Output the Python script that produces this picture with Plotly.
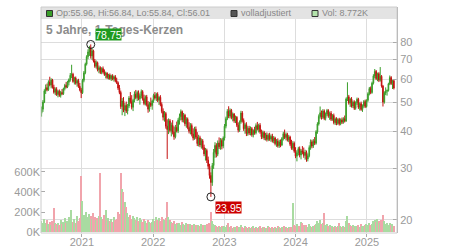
import math
import pandas as pd
import plotly.graph_objects as go

# ---------------- data (weekly candles) ----------------
start_date = "2020-06-08"

opens = [
    46.0, 47.5, 50.2, 54.8, 56.2, 55.3, 58.7, 57.4, 59.6, 56.4,
    54.2, 55.5, 53.3, 54.6, 52.9, 54.1, 53.6, 55.8, 57.2, 56.5,
    58.6, 59.8, 61.9, 62.4, 59.0, 60.6, 58.2, 59.4, 56.8, 55.2,
    54.0, 59.5, 63.1, 67.5, 71.6, 74.3, 76.8, 72.0, 74.9, 69.2,
    66.4, 68.3, 64.6, 65.7, 63.3, 65.2, 63.5, 62.2, 62.9, 60.8,
    62.0, 60.3, 61.6, 60.1, 61.2, 59.3, 58.4, 56.0, 54.1, 48.5,
    50.6, 47.2, 48.9, 46.8, 48.7, 51.8, 50.3, 48.2, 50.9, 53.4,
    52.0, 54.1, 51.5, 52.8, 54.5, 51.6, 49.7, 52.3, 49.2, 47.5,
    49.8, 48.9, 50.7, 52.9, 51.8, 53.4, 50.9, 52.1, 49.3, 46.7,
    44.6, 45.9, 41.6, 40.5, 43.4, 40.2, 41.9, 39.7, 38.3, 41.2,
    40.1, 43.6, 44.8, 46.6, 43.7, 45.3, 42.4, 43.9, 41.2, 40.0,
    41.8, 39.1, 37.9, 40.6, 38.2, 36.3, 38.0, 35.9, 37.1, 35.2,
    33.5, 34.4, 31.9, 30.4, 28.3, 26.8, 30.6, 33.9, 35.8, 33.4,
    36.5, 35.4, 37.2, 35.6, 37.9, 41.6, 44.1, 46.7, 45.0, 47.1,
    44.5, 45.7, 43.4, 44.6, 41.9, 40.3, 43.0, 46.1, 43.5, 40.8,
    42.1, 39.3, 40.9, 39.4, 40.8, 38.9, 40.2, 39.5, 41.8, 40.7,
    41.9, 39.8, 38.3, 39.6, 37.9, 38.8, 37.5, 38.7, 37.6, 38.4,
    37.1, 37.9, 36.3, 37.0, 35.7, 36.8, 35.9, 37.8, 39.2, 38.1,
    39.0, 37.4, 38.2, 36.1, 35.0, 36.4, 34.2, 32.9, 33.8, 34.9,
    33.2, 34.3, 34.0, 33.1, 33.9, 32.2, 33.0, 35.2, 36.8, 35.6,
    37.0, 36.4, 39.8, 42.3, 44.9, 46.2, 44.6, 46.8, 44.2, 45.7,
    47.0, 45.1, 46.0, 43.9, 45.2, 42.8, 44.0, 42.5, 43.8, 42.4,
    43.7, 42.9, 44.1, 43.3, 51.4, 52.3, 49.8, 51.4, 48.7, 50.2,
    47.8, 49.9, 51.3, 48.2, 49.6, 47.4, 48.8, 50.4, 48.5, 50.9,
    53.6, 55.8, 54.1, 58.2, 61.6, 63.8, 60.3, 62.7, 59.5, 61.4,
    56.9, 50.2, 53.9, 54.6, 55.0, 57.9, 60.8, 58.0, 59.3,
]

highs = [
    48.5, 51.0, 55.5, 57.6, 58.0, 59.5, 61.2, 60.5, 60.2, 57.5,
    56.3, 56.4, 55.2, 55.4, 54.8, 55.6, 56.2, 57.9, 58.8, 59.3,
    60.4, 63.0, 67.2, 63.1, 61.2, 61.3, 60.0, 60.2, 58.3, 56.1,
    60.2, 64.0, 68.3, 72.4, 75.8, 77.9, 78.75, 76.4, 75.6, 70.3,
    69.5, 68.9, 66.8, 66.4, 65.9, 66.3, 64.8, 63.7, 63.4, 62.6,
    62.8, 62.2, 62.4, 61.8, 62.0, 60.7, 59.0, 57.4, 54.9, 51.8,
    52.2, 49.8, 50.4, 49.5, 52.6, 54.3, 53.0, 51.5, 54.6, 55.2,
    54.9, 55.0, 53.6, 55.4, 55.1, 53.2, 52.9, 53.1, 50.6, 50.3,
    52.0, 51.2, 53.6, 54.3, 54.0, 54.2, 52.6, 53.0, 50.1, 47.8,
    46.8, 46.5, 43.9, 44.2, 44.0, 42.8, 43.6, 41.5, 42.0, 43.1,
    44.3, 45.9, 47.4, 47.0, 46.1, 45.8, 44.6, 44.5, 42.9, 42.6,
    42.5, 40.9, 41.4, 41.5, 39.7, 38.9, 38.6, 37.8, 37.6, 36.0,
    35.1, 34.9, 32.8, 31.0, 29.0, 31.2, 34.8, 36.7, 36.4, 37.2,
    38.1, 37.9, 37.8, 38.4, 42.3, 44.8, 47.5, 48.6, 47.8, 47.6,
    46.3, 46.1, 45.2, 45.0, 42.8, 43.5, 46.9, 46.8, 44.2, 42.7,
    42.9, 41.6, 41.7, 41.5, 41.3, 40.6, 41.4, 42.5, 43.0, 42.4,
    42.6, 40.5, 40.2, 40.1, 39.5, 39.6, 39.3, 39.5, 39.0, 39.2,
    38.5, 38.3, 37.6, 37.8, 37.4, 37.5, 38.2, 39.8, 40.5, 39.6,
    39.5, 38.8, 38.6, 37.4, 37.0, 36.9, 35.3, 34.5, 35.4, 35.5,
    34.8, 35.6, 35.2, 34.6, 34.4, 33.6, 35.8, 37.5, 37.4, 37.6,
    38.2, 40.3, 42.9, 45.6, 48.5, 47.0, 47.5, 47.4, 46.3, 47.6,
    47.5, 46.6, 46.8, 45.7, 45.9, 44.5, 44.6, 44.3, 44.4, 44.2,
    44.5, 44.6, 45.2, 52.0, 58.6, 53.1, 51.9, 52.2, 50.8, 50.9,
    50.5, 52.0, 51.9, 50.1, 50.4, 49.3, 51.0, 51.2, 51.3, 54.2,
    56.5, 56.7, 58.9, 62.4, 65.0, 64.5, 63.2, 63.4, 66.0, 62.0,
    57.4, 54.6, 56.3, 55.4, 58.4, 61.8, 61.5, 59.8, 59.9,
]

lows = [
    44.8, 46.5, 49.8, 53.5, 54.6, 54.8, 56.8, 55.9, 55.8, 53.6,
    53.0, 52.7, 52.1, 52.3, 52.0, 53.0, 53.1, 55.0, 55.9, 56.0,
    57.2, 58.9, 60.5, 58.4, 57.6, 57.5, 56.6, 56.1, 54.6, 51.8,
    53.5, 58.6, 62.4, 66.8, 70.2, 72.0, 70.5, 69.8, 68.4, 65.6,
    65.2, 63.8, 62.9, 62.5, 62.4, 62.7, 61.6, 60.4, 60.1, 59.9,
    59.7, 59.2, 59.5, 58.9, 58.6, 57.8, 55.2, 53.4, 47.6, 45.3,
    46.4, 45.0, 46.1, 45.6, 47.9, 49.6, 47.4, 46.8, 50.1, 51.4,
    50.6, 50.9, 49.2, 51.7, 50.8, 49.0, 48.9, 48.5, 46.2, 46.6,
    48.3, 47.3, 49.9, 51.2, 50.6, 50.2, 49.1, 48.6, 46.0, 43.5,
    43.1, 40.8, 32.2, 39.1, 39.6, 38.4, 39.0, 37.4, 37.8, 39.6,
    39.4, 42.1, 43.5, 42.9, 42.8, 41.6, 41.1, 40.6, 39.3, 39.0,
    38.4, 37.2, 37.4, 37.6, 35.6, 35.5, 35.3, 34.9, 34.6, 32.9,
    31.8, 31.2, 29.7, 27.6, 23.95, 26.1, 29.8, 32.5, 32.6, 32.9,
    34.8, 34.6, 34.7, 35.0, 37.2, 40.9, 43.6, 44.3, 44.2, 43.9,
    43.2, 42.7, 42.6, 41.3, 39.6, 39.8, 42.4, 42.8, 40.1, 39.2,
    38.5, 38.6, 38.8, 38.7, 38.3, 38.1, 38.9, 39.0, 40.2, 39.6,
    39.2, 37.6, 37.7, 37.3, 37.2, 36.9, 37.0, 37.1, 36.8, 36.6,
    36.4, 35.8, 35.4, 35.2, 35.1, 35.3, 35.6, 37.2, 37.6, 37.2,
    36.9, 36.7, 35.6, 34.6, 34.5, 33.8, 32.4, 31.6, 33.1, 32.6,
    32.1, 33.4, 32.5, 32.0, 31.5, 31.6, 32.6, 34.6, 35.0, 35.1,
    35.9, 36.0, 39.2, 41.8, 44.1, 43.8, 44.0, 43.6, 43.5, 44.9,
    44.4, 43.7, 43.3, 43.4, 42.2, 42.0, 41.9, 42.0, 41.8, 41.9,
    42.3, 42.4, 42.8, 43.0, 50.6, 49.2, 48.3, 48.1, 47.9, 47.2,
    47.3, 49.1, 47.6, 47.0, 46.9, 46.5, 48.0, 47.9, 48.1, 50.3,
    52.9, 53.4, 53.6, 57.6, 60.4, 59.6, 59.1, 58.7, 58.9, 56.2,
    48.5, 49.6, 53.0, 52.8, 54.5, 57.3, 57.4, 55.6, 55.4,
]

closes = [
    47.5, 50.2, 54.8, 56.2, 55.3, 58.7, 57.4, 59.6, 56.4, 54.2,
    55.5, 53.3, 54.6, 52.9, 54.1, 53.6, 55.8, 57.2, 56.5, 58.6,
    59.8, 61.9, 62.4, 59.0, 60.6, 58.2, 59.4, 56.8, 55.2, 54.0,
    59.5, 63.1, 67.5, 71.6, 74.3, 76.8, 72.0, 74.9, 69.2, 66.4,
    68.3, 64.6, 65.7, 63.3, 65.2, 63.5, 62.2, 62.9, 60.8, 62.0,
    60.3, 61.6, 60.1, 61.2, 59.3, 58.4, 56.0, 54.1, 48.5, 50.6,
    47.2, 48.9, 46.8, 48.7, 51.8, 50.3, 48.2, 50.9, 53.4, 52.0,
    54.1, 51.5, 52.8, 54.5, 51.6, 49.7, 52.3, 49.2, 47.5, 49.8,
    48.9, 50.7, 52.9, 51.8, 53.4, 50.9, 52.1, 49.3, 46.7, 44.6,
    45.9, 41.6, 40.5, 43.4, 40.2, 41.9, 39.7, 38.3, 41.2, 40.1,
    43.6, 44.8, 46.6, 43.7, 45.3, 42.4, 43.9, 41.2, 40.0, 41.8,
    39.1, 37.9, 40.6, 38.2, 36.3, 38.0, 35.9, 37.1, 35.2, 33.5,
    34.4, 31.9, 30.4, 28.3, 26.8, 30.6, 33.9, 35.8, 33.4, 36.5,
    35.4, 37.2, 35.6, 37.9, 41.6, 44.1, 46.7, 45.0, 47.1, 44.5,
    45.7, 43.4, 44.6, 41.9, 40.3, 43.0, 46.1, 43.5, 40.8, 42.1,
    39.3, 40.9, 39.4, 40.8, 38.9, 40.2, 39.5, 41.8, 40.7, 41.9,
    39.8, 38.3, 39.6, 37.9, 38.8, 37.5, 38.7, 37.6, 38.4, 37.1,
    37.9, 36.3, 37.0, 35.7, 36.8, 35.9, 37.8, 39.2, 38.1, 39.0,
    37.4, 38.2, 36.1, 35.0, 36.4, 34.2, 32.9, 33.8, 34.9, 33.2,
    34.3, 34.0, 33.1, 33.9, 32.2, 33.0, 35.2, 36.8, 35.6, 37.0,
    36.4, 39.8, 42.3, 44.9, 46.2, 44.6, 46.8, 44.2, 45.7, 47.0,
    45.1, 46.0, 43.9, 45.2, 42.8, 44.0, 42.5, 43.8, 42.4, 43.7,
    42.9, 44.1, 43.3, 51.4, 52.3, 49.8, 51.4, 48.7, 50.2, 47.8,
    49.9, 51.3, 48.2, 49.6, 47.4, 48.8, 50.4, 48.5, 50.9, 53.6,
    55.8, 54.1, 58.2, 61.6, 63.8, 60.3, 62.7, 59.5, 61.4, 56.9,
    50.2, 53.9, 54.6, 55.0, 57.9, 60.8, 58.0, 59.3, 56.01,
]

volumes_k = [
    110, 90, 130, 95, 120, 85, 100, 75, 110, 240,
    90, 80, 95, 70, 120, 85, 100, 140, 90, 110,
    150, 120, 220, 100, 130, 95, 160, 110, 140, 560,
    310, 170, 140, 200, 150, 180, 160, 130, 190, 150,
    120, 140, 160, 590, 150, 130, 170, 220, 120, 140,
    110, 130, 100, 150, 120, 130, 205, 180, 590, 430,
    400, 300, 255, 190, 150, 170, 130, 160, 140, 120,
    150, 110, 140, 120, 100, 130, 115, 95, 120, 105,
    90, 100, 130, 110, 150, 120, 140, 110, 155, 130,
    120, 145, 300, 155, 120, 100, 90, 110, 85, 95,
    80, 90, 75, 100, 85, 70, 95, 80, 70, 85,
    75, 65, 80, 70, 60, 75, 65, 85, 70, 60,
    75, 80, 70, 90, 205, 110, 80, 70, 60, 55,
    65, 50, 60, 55, 60, 55, 70, 90, 50, 60,
    45, 55, 50, 65, 45, 55, 70, 50, 45, 60,
    50, 45, 55, 40, 50, 60, 45, 55, 40, 50,
    65, 45, 55, 50, 40, 45, 60, 50, 45, 55,
    40, 50, 45, 60, 50, 40, 55, 45, 65, 50,
    45, 55, 40, 50, 290, 70, 60, 80, 55, 65,
    105, 90, 70, 60, 75, 55, 80, 60, 50, 65,
    70, 85, 110, 90, 120, 80, 95, 190, 75, 80,
    60, 70, 55, 65, 50, 60, 55, 60, 95, 60,
    50, 65, 55, 110, 160, 90, 70, 60, 75, 55,
    65, 60, 70, 55, 80, 65, 60, 75, 85, 70,
    90, 75, 80, 110, 125, 100, 130, 110, 90, 120,
    170, 110, 80, 90, 75, 95, 70, 85, 60,
]

year_ticks = ["2021-01-01", "2022-01-01", "2023-01-01", "2024-01-01", "2025-01-01"]
year_labels = ["2021", "2022", "2023", "2024", "2025"]
price_ticks = [20, 30, 40, 50, 60, 70, 80]
vol_ticks = [0, 200, 400, 600]
vol_labels = ["0K", "200K", "400K", "600K"]

title_text = "5 Jahre, 1-Tages-Kerzen"
legend_ohlc = "Op:55.96, Hi:56.84, Lo:55.84, Cl:56.01"
legend_adj = "volladjustiert"
legend_vol = "Vol: 8.772K"

# ---------------- figure ----------------
n = len(closes)
dates = pd.date_range(start_date, periods=n, freq="7D")

UP = "#3a9e2a"
DOWN = "#c41010"
vol_colors = ["#a9dba1" if c >= o else "#f1a4ac" for o, c in zip(opens, closes)]

i_max = max(range(n), key=lambda i: highs[i])
i_min = min(range(n), key=lambda i: lows[i])

fig = go.Figure()
fig.add_trace(go.Bar(
    x=dates, y=volumes_k, yaxis="y",
    marker=dict(color=vol_colors, line=dict(width=0)),
    hoverinfo="skip",
))
fig.add_trace(go.Candlestick(
    x=dates, open=opens, high=highs, low=lows, close=closes, yaxis="y2",
    increasing=dict(line=dict(color=UP, width=1), fillcolor=UP),
    decreasing=dict(line=dict(color=DOWN, width=1), fillcolor=DOWN),
    whiskerwidth=0, hoverinfo="skip",
))
fig.add_trace(go.Scatter(
    x=[dates[i_max], dates[i_min]], y=[highs[i_max], lows[i_min]], yaxis="y2",
    mode="markers",
    marker=dict(symbol="circle-open", size=8, color="#222222", line=dict(width=1)),
    hoverinfo="skip",
))

L, R, T, B = 41, 53, 7, 17
W, H = 450, 250
pw, ph = W - L - R, H - T - B


def px(x):
    return (x - L) / pw


def py(y):
    return (T + ph - y) / ph


FONT = "Liberation Sans, Arial, sans-serif"
TICKC = "#9a9a9a"

shapes = [
    dict(type="rect", xref="paper", yref="paper", x0=0, x1=1, y0=py(19), y1=1,
         fillcolor="#e3e3e3", line=dict(width=0), layer="above"),
    dict(type="rect", xref="paper", yref="paper", x0=px(46.5), x1=px(52.5), y0=py(16.5), y1=py(10.5),
         fillcolor=UP, line=dict(color="#333", width=1), layer="above"),
    dict(type="rect", xref="paper", yref="paper", x0=px(231), x1=px(237), y0=py(16.5), y1=py(10.5),
         fillcolor="#555555", line=dict(color="#333", width=1), layer="above"),
    dict(type="rect", xref="paper", yref="paper", x0=px(312), x1=px(318), y0=py(16.5), y1=py(10.5),
         fillcolor="#b3e2ab", line=dict(color="#333", width=1), layer="above"),
    dict(type="rect", xref="paper", yref="paper", x0=0, x1=1, y0=0, y1=1,
         line=dict(color="#cccccc", width=1), layer="above"),
]

annotations = [
    dict(text=legend_ohlc, xref="paper", yref="paper", x=px(54), y=py(13.5),
         xanchor="left", yanchor="middle", showarrow=False,
         font=dict(family=FONT, size=9, color="#888888")),
    dict(text=legend_adj, xref="paper", yref="paper", x=px(239), y=py(13.5),
         xanchor="left", yanchor="middle", showarrow=False,
         font=dict(family=FONT, size=9, color="#888888")),
    dict(text=legend_vol, xref="paper", yref="paper", x=px(320), y=py(13.5),
         xanchor="left", yanchor="middle", showarrow=False,
         font=dict(family=FONT, size=9, color="#888888")),
    dict(text="<b>" + title_text + "</b>", xref="paper", yref="paper", x=px(44), y=py(30),
         xanchor="left", yanchor="middle", showarrow=False,
         font=dict(family=FONT, size=12, color="#8c8c8c")),
    dict(text=f"{highs[i_max]:.2f}".replace(".", ","), xref="x", yref="y2",
         x=dates[i_max], y=math.log10(highs[i_max]), xanchor="left", yanchor="bottom",
         xshift=4, yshift=3, showarrow=False, bgcolor="#1e9a1e", borderpad=0,
         width=25, height=11, valign="middle",
         font=dict(family=FONT, size=10.5, color="white")),
    dict(text=f"{lows[i_min]:.2f}".replace(".", ","), xref="x", yref="y2",
         x=dates[i_min], y=math.log10(lows[i_min]), xanchor="left", yanchor="top",
         xshift=4, yshift=-4, showarrow=False, bgcolor="#cc0000", borderpad=0,
         width=25, height=11, valign="middle",
         font=dict(family=FONT, size=10.5, color="white")),
]

fig.update_layout(
    width=W, height=H,
    margin=dict(l=L, r=R, t=T, b=B, pad=0, autoexpand=False),
    paper_bgcolor="white", plot_bgcolor="white",
    showlegend=False, hovermode=False, bargap=0,
    font=dict(family=FONT, size=11, color=TICKC),
    shapes=shapes, annotations=annotations,
    xaxis=dict(
        type="date", range=["2020-06-05", "2025-06-04"], automargin=False,
        tickvals=year_ticks, ticktext=year_labels,
        ticks="outside", ticklen=3, tickcolor="#aaaaaa",
        ticklabelstandoff=-4,
        showgrid=True, gridcolor="#dddddd", gridwidth=1,
        zeroline=False, showline=False,
        rangeslider=dict(visible=False),
        tickfont=dict(family=FONT, size=11, color=TICKC),
    ),
    yaxis=dict(
        side="left", range=[-7, 2231], automargin=False,
        tickvals=vol_ticks, ticktext=vol_labels,
        ticks="inside", ticklen=4, tickcolor="#aaaaaa",
        showgrid=False, zeroline=False, showline=False,
        tickfont=dict(family=FONT, size=11, color=TICKC),
    ),
    yaxis2=dict(
        overlaying="y", side="right", type="log", automargin=False,
        range=[math.log10(18.06), math.log10(105.5)],
        tickvals=price_ticks, ticktext=[str(v) for v in price_ticks],
        ticks="inside", ticklen=4, tickcolor="#aaaaaa",
        showline=True, linecolor="#aaaaaa", linewidth=1,
        showgrid=True, gridcolor="#dddddd", gridwidth=1, zeroline=False,
        tickfont=dict(family=FONT, size=11, color=TICKC),
    ),
)

fig.write_html("out.html")
